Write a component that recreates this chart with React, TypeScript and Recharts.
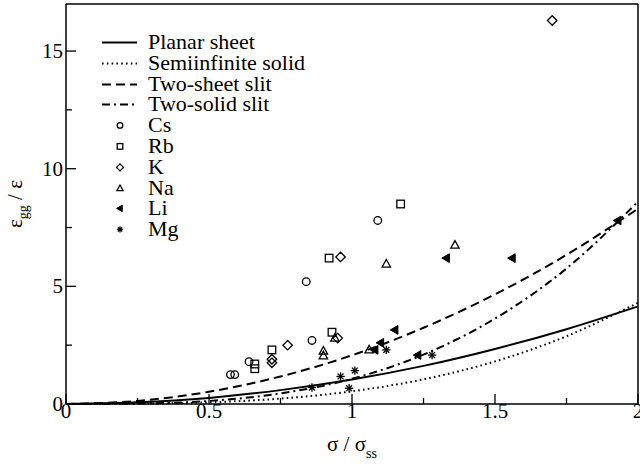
import { ComposedChart, Legend, Line, Scatter, XAxis, YAxis } from "recharts";

// sigma / sigma_ss sample positions for the model curves
const sigma = [0, 0.25, 0.5, 0.75, 1, 1.25, 1.5, 1.75, 2];
const planarSheet = [0, 0.07, 0.26, 0.59, 1.04, 1.62, 2.34, 3.18, 4.15];
const semiinfiniteSolid = [0, 0.01, 0.07, 0.23, 0.54, 1.05, 1.81, 2.88, 4.3];
const twoSheetSlit = [0, 0.13, 0.52, 1.17, 2.07, 3.24, 4.66, 6.34, 8.3];
const twoSolidSlit = [0, 0.02, 0.13, 0.45, 1.07, 2.1, 3.63, 5.76, 8.6];

// measured points [sigma/sigma_ss, eps_gg/eps]
const csPoints = [[0.575, 1.25], [0.59, 1.25], [0.64, 1.8], [0.86, 2.7], [0.84, 5.2], [1.09, 7.8]];
const rbPoints = [[0.66, 1.7], [0.66, 1.5], [0.72, 2.3], [0.93, 3.05], [0.92, 6.2], [1.17, 8.5]];
const kPoints = [[0.72, 1.9], [0.72, 1.75], [0.775, 2.5], [0.95, 2.8], [0.96, 6.25], [1.7, 16.3]];
const naPoints = [[0.9, 2.25], [0.9, 2.05], [0.94, 2.8], [1.06, 2.3], [1.12, 5.95], [1.36, 6.75]];
const liPoints = [[1.08, 2.3], [1.1, 2.6], [1.15, 3.15], [1.23, 2.08], [1.33, 6.2], [1.56, 6.2], [1.93, 7.8]];
const mgPoints = [[0.86, 0.7], [0.96, 1.17], [0.99, 0.67], [1.01, 1.42], [1.12, 2.3], [1.28, 2.08]];

const xTicks = [0, 0.25, 0.5, 0.75, 1, 1.25, 1.5, 1.75, 2];
const xMajor = [0, 0.5, 1, 1.5, 2];
const yTicks = [0, 2.5, 5, 7.5, 10, 12.5, 15];
const yMajor = [0, 5, 10, 15];

const FONT = "'Liberation Serif', Tinos, 'Times New Roman', Times, 'Nimbus Roman', 'DejaVu Serif', serif";

const curve = (ys: number[]) => sigma.map((x, i) => ({ x, y: ys[i] }));
const pts = (p: number[][]) => p.map(([x, y]) => ({ x, y }));

const lines = [
  { name: "Planar sheet", data: curve(planarSheet), dash: undefined },
  { name: "Semiinfinite solid", data: curve(semiinfiniteSolid), dash: "1.6 3.2" },
  { name: "Two-sheet slit", data: curve(twoSheetSlit), dash: "9 5" },
  { name: "Two-solid slit", data: curve(twoSolidSlit), dash: "8 4 2 4" },
];

const symbols = [
  { name: "Cs", data: pts(csPoints), kind: "circle" },
  { name: "Rb", data: pts(rbPoints), kind: "square" },
  { name: "K", data: pts(kPoints), kind: "diamond" },
  { name: "Na", data: pts(naPoints), kind: "triangle" },
  { name: "Li", data: pts(liPoints), kind: "left" },
  { name: "Mg", data: pts(mgPoints), kind: "star" },
];

function marker(kind: string, cx: number, cy: number, s: number) {
  const st = { fill: "none", stroke: "#000", strokeWidth: 1.3 };
  switch (kind) {
    case "circle":
      return <circle cx={cx} cy={cy} r={s} {...st} />;
    case "square":
      return <rect x={cx - s} y={cy - s} width={2 * s} height={2 * s} {...st} />;
    case "diamond": {
      const d = s * 1.25;
      return <polygon points={`${cx},${cy - d} ${cx + d},${cy} ${cx},${cy + d} ${cx - d},${cy}`} {...st} />;
    }
    case "triangle":
      return (
        <polygon
          points={`${cx},${cy - s * 1.2} ${cx + s * 1.1},${cy + s * 0.8} ${cx - s * 1.1},${cy + s * 0.8}`}
          {...st}
        />
      );
    case "left":
      return (
        <polygon
          points={`${cx - s * 1.2},${cy} ${cx + s * 0.8},${cy - s * 1.15} ${cx + s * 0.8},${cy + s * 1.15}`}
          fill="#000"
          stroke="#000"
          strokeWidth={1}
        />
      );
    default: {
      const r = s * 1.1;
      const q = r * 0.7;
      return (
        <g stroke="#000" strokeWidth={1.3}>
          <line x1={cx} y1={cy - r} x2={cx} y2={cy + r} />
          <line x1={cx - r} y1={cy} x2={cx + r} y2={cy} />
          <line x1={cx - q} y1={cy - q} x2={cx + q} y2={cy + q} />
          <line x1={cx - q} y1={cy + q} x2={cx + q} y2={cy - q} />
        </g>
      );
    }
  }
}

const BottomTick = (props: any) => {
  const { x, y, payload } = props;
  const major = xMajor.includes(payload.value);
  const axisY = y - 2;
  return (
    <g>
      <line x1={x} x2={x} y1={axisY} y2={axisY - (major ? 10 : 6)} stroke="#000" strokeWidth={1.3} />
      {major && (
        <text x={x} y={axisY + 14} textAnchor="middle" style={{ fontFamily: FONT }} fontSize={21} fill="#000">
          {String(payload.value)}
        </text>
      )}
    </g>
  );
};

const TopTick = (props: any) => {
  const { x, y, payload } = props;
  const major = xMajor.includes(payload.value);
  return <line x1={x} x2={x} y1={y} y2={y + (major ? 10 : 6)} stroke="#000" strokeWidth={1.3} />;
};

const LeftTick = (props: any) => {
  const { x, y, payload } = props;
  const major = yMajor.includes(payload.value);
  const axisX = x + 3;
  return (
    <g>
      <line x1={axisX} x2={axisX + (major ? 10 : 6)} y1={y} y2={y} stroke="#000" strokeWidth={1.3} />
      {major && (
        <text x={x} y={y + 7} textAnchor="end" style={{ fontFamily: FONT }} fontSize={21} fill="#000">
          {String(payload.value)}
        </text>
      )}
    </g>
  );
};

const RightTick = (props: any) => {
  const { x, y, payload } = props;
  const major = yMajor.includes(payload.value);
  return <line x1={x} x2={x - (major ? 10 : 6)} y1={y} y2={y} stroke="#000" strokeWidth={1.3} />;
};

const XTitle = (props: any) => {
  const { viewBox } = props;
  const cx = viewBox.x + viewBox.width / 2;
  return (
    <text x={cx} y={viewBox.y + 47} textAnchor="middle" style={{ fontFamily: FONT }} fontSize={21} fill="#000">
      σ / σ<tspan fontSize={14} dy={7}>ss</tspan>
    </text>
  );
};

const YTitle = (props: any) => {
  const { viewBox } = props;
  const cy = viewBox.y + viewBox.height / 2;
  const x = 22;
  return (
    <text
      x={x}
      y={cy}
      transform={`rotate(-90 ${x} ${cy})`}
      textAnchor="middle"
      style={{ fontFamily: FONT }}
      fontSize={21}
      fill="#000"
    >
      ε<tspan fontSize={14} dy={6}>gg</tspan>
      <tspan dy={-6}> / ε</tspan>
    </text>
  );
};

const LegendBox = () => {
  const rowH = 20.8;
  const rows = [
    ...lines.map((l) => ({ name: l.name, draw: <line x1={2} x2={37} y1={rowH / 2} y2={rowH / 2} stroke="#000" strokeWidth={2} strokeDasharray={l.dash} /> })),
    ...symbols.map((s) => ({ name: s.name, draw: marker(s.kind, 20, rowH / 2, 2.8) })),
  ];
  return (
    <div style={{ position: "absolute", left: 100, top: 32, fontFamily: FONT, fontSize: 22, color: "#000" }}>
      {rows.map((r) => (
        <div key={r.name} style={{ display: "flex", alignItems: "center", height: rowH, lineHeight: `${rowH}px` }}>
          <svg width={40} height={rowH} style={{ display: "block" }}>
            {r.draw}
          </svg>
          <span style={{ marginLeft: 8, whiteSpace: "nowrap" }}>{r.name}</span>
        </div>
      ))}
    </div>
  );
};

export default function App() {
  const axisLine = { stroke: "#000", strokeWidth: 1.5 };
  return (
    <div style={{ position: "absolute", left: 0, top: 0, width: 640, height: 464, background: "#fff", fontFamily: FONT }}>
      <ComposedChart width={640} height={464} margin={{ top: 0, right: 0, bottom: 0, left: 0 }}>
        <XAxis
          dataKey="x"
          type="number"
          domain={[0, 2]}
          ticks={xTicks}
          interval={0}
          height={60}
          tickSize={0}
          tickMargin={2}
          tickLine={false}
          axisLine={axisLine}
          tick={<BottomTick />}
          label={<XTitle />}
        />
        <XAxis
          xAxisId="top"
          orientation="top"
          dataKey="x"
          type="number"
          domain={[0, 2]}
          ticks={xTicks}
          interval={0}
          height={4}
          tickSize={0}
          tickMargin={0}
          tickLine={false}
          axisLine={axisLine}
          tick={<TopTick />}
        />
        <YAxis
          dataKey="y"
          type="number"
          domain={[0, 17]}
          ticks={yTicks}
          interval={0}
          width={66}
          tickSize={0}
          tickMargin={3}
          tickLine={false}
          axisLine={axisLine}
          tick={<LeftTick />}
          label={<YTitle />}
        />
        <YAxis
          yAxisId="right"
          orientation="right"
          dataKey="y"
          type="number"
          domain={[0, 17]}
          ticks={yTicks}
          interval={0}
          width={2}
          tickSize={0}
          tickMargin={0}
          tickLine={false}
          axisLine={axisLine}
          tick={<RightTick />}
        />
        <Legend
          layout="vertical"
          align="center"
          verticalAlign="middle"
          content={<LegendBox />}
          wrapperStyle={{ left: 0, top: 0, width: 640, height: 464, pointerEvents: "none" }}
        />
        {lines.map((l) => (
          <Line
            key={l.name}
            name={l.name}
            data={l.data}
            dataKey="y"
            type="monotone"
            stroke="#000"
            strokeWidth={2}
            strokeDasharray={l.dash}
            dot={false}
            activeDot={false}
            isAnimationActive={false}
          />
        ))}
        {symbols.map((s) => (
          <Scatter
            key={s.name}
            name={s.name}
            data={s.data}
            dataKey="y"
            shape={(p: any) => marker(s.kind, p.cx, p.cy, 3.8)}
            isAnimationActive={false}
          />
        ))}
      </ComposedChart>
    </div>
  );
}
